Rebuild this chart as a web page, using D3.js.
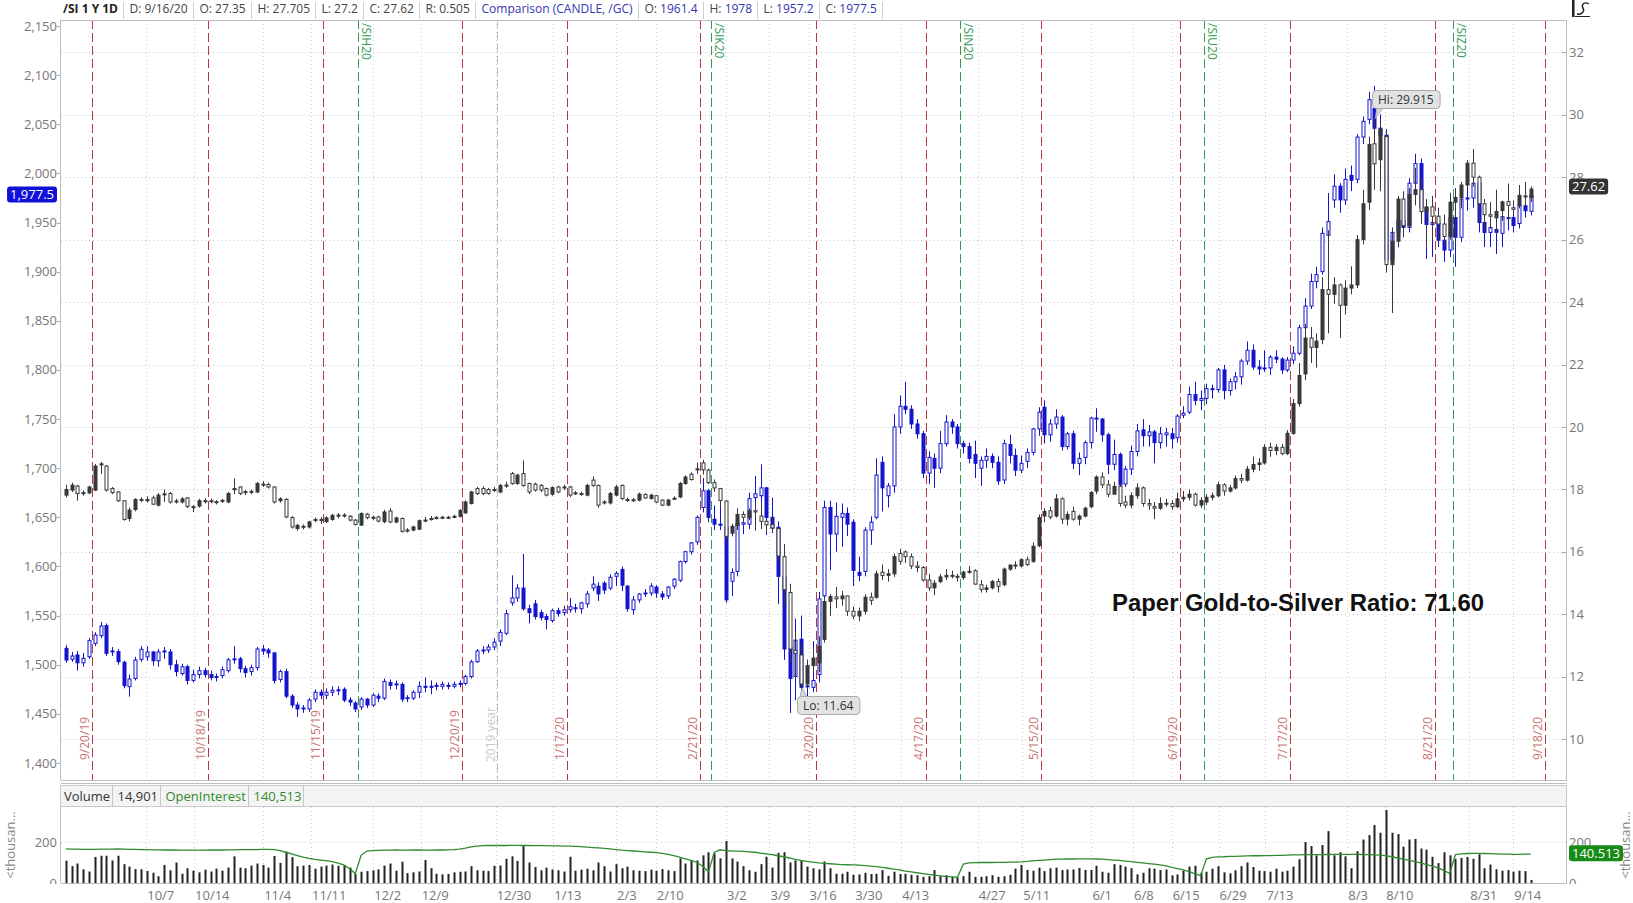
<!DOCTYPE html>
<html><head><meta charset="utf-8"><title>/SI vs /GC</title>
<script src="https://cdn.jsdelivr.net/npm/d3@7"></script>
<style>
html,body{margin:0;padding:0;background:#fff;overflow:hidden}
svg{display:block}
text{font-family:"Open Sans",sans-serif}
</style></head>
<body><svg id="chart" width="1633" height="903"></svg>
<script>
// ---------- DATA ----------
// /SI daily candles [open, high, low, close], 9/16/19 .. 9/16/20
const silverOHLC = [
[17.82,18.15,17.75,18.00],[17.98,18.22,17.92,18.14],[18.11,18.15,17.64,17.87],[17.88,17.97,17.80,17.90],[17.89,18.12,17.85,18.08],[17.98,18.82,17.95,18.75],
[18.80,18.88,18.50,18.82],[18.75,18.78,17.93,17.98],[18.03,18.08,17.85,17.90],[17.92,17.95,17.60,17.64],[17.64,17.66,17.00,17.04],[17.07,17.42,16.98,17.34],
[17.36,17.72,17.30,17.68],[17.68,17.75,17.60,17.66],[17.64,17.78,17.58,17.68],[17.73,17.80,17.50,17.53],[17.50,17.88,17.45,17.82],[17.85,18.00,17.60,17.86],
[17.87,17.92,17.55,17.60],[17.62,17.70,17.55,17.63],[17.60,17.75,17.55,17.70],[17.73,17.76,17.40,17.46],[17.45,17.50,17.28,17.44],[17.47,17.70,17.42,17.64],
[17.62,17.72,17.55,17.64],[17.64,17.70,17.56,17.62],[17.61,17.66,17.52,17.60],[17.62,17.70,17.57,17.65],[17.60,17.92,17.56,17.87],[17.99,18.35,17.85,18.03],
[18.08,18.10,17.82,17.87],[17.91,17.98,17.82,17.93],[17.92,18.00,17.85,17.94],[17.92,18.24,17.88,18.19],[18.17,18.26,18.08,18.16],[18.16,18.22,18.03,18.08],
[18.08,18.10,17.55,17.60],[17.64,17.75,17.58,17.70],[17.68,17.72,17.08,17.12],[17.10,17.15,16.75,16.80],[16.75,16.90,16.68,16.85],[16.82,16.88,16.72,16.80],
[16.80,17.00,16.75,16.96],[17.02,17.10,16.95,17.04],[17.04,17.12,16.90,17.02],[16.97,17.14,16.92,17.09],[17.04,17.22,17.00,17.17],[17.16,17.25,17.08,17.18],
[17.18,17.24,17.10,17.16],[17.14,17.18,16.98,17.02],[17.02,17.05,16.85,16.88],[16.86,17.27,16.83,17.23],[17.21,17.25,17.05,17.10],[17.10,17.16,17.02,17.11],
[17.12,17.16,16.95,16.99],[16.97,17.35,16.92,17.28],[17.31,17.40,16.92,16.96],[16.96,17.13,16.92,17.09],[17.07,17.10,16.62,16.66],[16.68,16.76,16.62,16.70],
[16.70,16.84,16.66,16.80],[16.73,17.04,16.70,17.00],[17.01,17.12,16.95,17.02],[17.05,17.15,17.00,17.07],[17.09,17.15,17.04,17.10],[17.10,17.16,17.05,17.11],
[17.11,17.15,17.05,17.10],[17.12,17.19,17.08,17.14],[17.14,17.37,17.10,17.33],[17.25,17.65,17.22,17.60],[17.55,17.96,17.52,17.92],[18.03,18.08,17.82,17.87],
[18.03,18.10,17.82,17.87],[18.00,18.05,17.83,17.87],[17.99,18.08,17.92,18.00],[17.92,18.18,17.88,18.13],[18.14,18.25,18.05,18.13],[18.51,18.56,18.15,18.19],
[18.19,18.50,18.15,18.46],[18.51,18.93,18.08,18.13],[18.19,18.22,17.85,17.92],[18.17,18.22,17.93,17.98],[18.13,18.17,17.92,17.98],[18.03,18.06,17.78,17.82],
[17.85,18.10,17.80,18.06],[18.08,18.12,17.88,17.92],[18.06,18.15,17.98,18.08],[18.08,18.12,17.76,17.82],[17.88,17.95,17.82,17.89],[17.87,17.93,17.80,17.86],
[17.82,18.18,17.78,18.13],[18.30,18.42,18.08,18.13],[18.13,18.16,17.42,17.50],[17.58,17.66,17.52,17.60],[17.57,17.92,17.52,17.87],[17.82,18.14,17.78,18.08],
[18.13,18.16,17.66,17.71],[17.68,17.74,17.60,17.66],[17.66,17.73,17.60,17.67],[17.66,17.90,17.62,17.85],[17.84,17.88,17.70,17.73],[17.71,17.86,17.68,17.82],
[17.80,17.82,17.56,17.60],[17.66,17.68,17.46,17.50],[17.50,17.70,17.46,17.66],[17.70,17.78,17.66,17.72],[17.76,18.24,17.72,18.19],[18.19,18.45,18.15,18.40],
[18.49,18.55,18.28,18.32],[18.63,18.86,18.50,18.66],[18.85,18.95,18.48,18.63],[18.62,18.67,18.17,18.22],[18.22,18.32,17.92,18.05],[18.03,18.05,17.48,17.65],
[17.63,17.65,16.38,16.50],[16.60,16.90,16.50,16.82],[16.85,17.40,16.70,17.20],[17.20,17.30,16.95,17.11],[17.10,17.40,17.02,17.32],[17.32,17.59,16.68,17.28],
[17.15,17.60,16.73,16.98],[16.98,17.00,16.65,16.87],[16.87,17.10,16.65,16.77],[16.75,16.82,15.65,15.87],[15.85,16.25,14.28,14.79],[14.70,14.98,12.45,12.89],
[12.85,13.45,11.95,12.75],[12.70,13.07,11.64,11.77],[11.77,12.55,11.70,12.36],[12.36,12.92,12.15,12.60],[12.45,13.30,12.15,12.97],[13.20,14.60,13.10,14.41],
[14.42,14.65,13.95,14.57],[14.56,14.88,14.20,14.50],[14.50,14.75,14.28,14.59],[14.59,14.60,13.95,14.10],[14.10,14.25,13.85,13.95],[13.95,14.22,13.78,14.10],
[14.10,14.65,14.00,14.55],[14.55,14.70,14.30,14.45],[14.55,15.40,14.50,15.30],[15.35,15.60,15.10,15.25],[15.25,15.45,15.05,15.30],[15.30,15.95,15.20,15.85],
[15.95,16.10,15.60,15.70],[16.00,16.05,15.65,15.85],[15.85,15.95,15.45,15.55],[15.55,15.70,15.35,15.50],[15.50,15.55,15.05,15.10],[15.10,15.30,14.75,14.85],
[14.85,15.10,14.62,15.00],[15.05,15.30,15.00,15.20],[15.20,15.45,15.10,15.25],[15.25,15.40,15.15,15.22],[15.22,15.30,15.05,15.20],[15.18,15.40,15.10,15.35],
[15.35,15.55,15.30,15.38],[15.40,15.45,14.95,14.97],[14.95,15.10,14.70,14.80],[14.80,14.95,14.70,14.85],[14.85,15.10,14.80,15.05],[15.05,15.15,14.70,14.90],
[14.95,15.50,14.90,15.45],[15.45,15.60,15.40,15.58],[15.58,15.70,15.45,15.55],[15.55,15.80,15.50,15.75],[15.75,15.85,15.55,15.60],[15.70,16.30,15.65,16.18],
[16.20,17.20,16.15,17.10],[17.15,17.40,16.95,17.30],[17.32,17.45,17.05,17.12],[17.15,17.85,17.10,17.70],[17.70,17.75,16.90,17.05],[17.05,17.30,16.85,17.20],
[17.30,17.45,17.00,17.05],[17.05,17.20,16.85,17.15],[17.15,17.45,17.10,17.40],[17.45,17.95,17.40,17.90],[17.95,18.45,17.85,18.40],[18.40,18.55,18.05,18.15],
[18.15,18.30,17.75,17.85],[17.85,18.25,17.85,18.10],[18.10,18.20,17.45,17.55],[17.60,17.80,17.40,17.50],[17.50,17.90,17.40,17.80],[17.80,18.20,17.70,18.05],
[18.05,18.10,17.45,17.55],[17.55,17.70,17.35,17.50],[17.45,17.60,17.05,17.40],[17.40,17.75,17.35,17.55],[17.55,17.70,17.45,17.56],[17.55,17.65,17.35,17.45],
[17.45,17.90,17.40,17.70],[17.70,17.95,17.60,17.75],[17.75,18.00,17.65,17.85],[17.85,17.90,17.45,17.50],[17.50,17.75,17.40,17.65],[17.60,17.85,17.50,17.75],
[17.75,17.90,17.65,17.80],[17.80,18.25,17.75,18.15],[18.15,18.20,17.80,17.95],[17.95,18.15,17.90,18.05],[18.05,18.45,18.00,18.35],[18.35,18.50,18.20,18.30],
[18.30,18.75,18.25,18.65],[18.65,19.05,18.55,18.80],[18.80,19.00,18.60,18.85],[18.85,19.45,18.80,19.35],[19.35,19.50,19.05,19.25],[19.25,19.45,19.10,19.35],
[19.35,19.45,19.10,19.15],[19.15,19.90,19.10,19.80],[19.80,20.90,19.75,20.75],[20.75,22.05,20.65,21.65],[21.70,23.30,21.50,22.85],[22.85,23.20,22.05,22.55],
[22.55,23.00,21.90,22.75],[22.80,24.80,22.65,24.40],[24.40,26.30,23.00,24.25],[24.25,24.80,23.95,24.55],[24.55,24.60,22.85,23.90],[23.90,24.70,23.60,24.45],
[24.45,25.15,24.25,24.55],[24.55,26.15,24.45,26.00],[26.00,27.60,25.85,27.15],[27.20,29.30,26.95,29.05],[29.07,29.915,27.60,28.43],[28.56,29.75,27.55,29.52],
[29.30,29.45,24.95,25.20],[25.20,26.35,23.65,25.95],[25.95,27.40,25.85,27.30],[27.30,27.55,26.10,26.45],[26.45,27.65,26.35,27.45],[27.45,28.30,27.10,27.60],
[27.60,27.95,26.50,26.90],[26.90,27.30,25.70,27.05],[27.05,27.40,25.95,26.75],[26.75,26.95,25.95,26.50],[26.50,26.80,25.80,26.10],[26.10,27.50,26.00,27.20],
[27.20,27.60,25.90,27.35],[27.35,27.85,27.00,27.75],[27.75,28.55,27.60,28.45],[28.45,28.90,27.70,28.00],[28.00,28.05,26.55,27.15],[27.15,27.30,26.30,26.80],
[26.80,27.20,26.35,26.75],[26.70,27.60,26.20,26.90],[26.93,27.25,26.60,27.21],[27.22,27.80,26.55,27.10],[27.02,27.25,26.75,26.97],[27.10,27.75,27.00,27.42],
[27.40,27.85,27.05,27.38],[27.35,27.705,27.20,27.62]
];
// /GC comparison candles [open, high, low, close]
const goldOHLC = [
[1516.7,1520,1502,1504.8],[1505.5,1513,1503,1508.9],[1510,1514,1494,1502],[1502,1512,1498,1506.5],[1508.2,1527,1506,1524.5],[1521.8,1533,1519,1530.3],
[1529.6,1543.5,1527,1539.4],[1539.8,1542,1509,1511.6],[1514,1518,1509,1513.3],[1513.3,1516,1500,1503.1],[1502.5,1504,1476,1478.7],[1477.7,1490,1467.5,1485.5],
[1486,1508,1484,1504.8],[1505.5,1519,1503,1515.7],[1508,1519,1504,1513],[1513,1514,1499,1504],[1504,1516,1498,1513],[1513,1518,1506,1514],
[1513,1516,1495,1500],[1500,1505,1488,1493],[1491,1501,1489,1498],[1498,1500,1480,1484],[1484,1495,1482,1490],[1490,1498,1486,1494],
[1494,1497,1487,1490],[1490,1494,1484,1487],[1487,1491,1483,1488],[1489,1498,1486,1495],[1494,1507,1492,1505],[1505,1519,1501,1506],
[1506,1508,1492,1496],[1496,1499,1487,1492],[1493,1500,1489,1497],[1497,1518,1494,1516],[1516,1520,1510,1514],[1515,1517,1507,1512],
[1512,1513,1481,1484],[1485,1495,1482,1493],[1493,1496,1466,1468],[1468,1470,1456,1459],[1459,1462,1447,1455],[1455,1459,1451,1456],
[1455,1466,1452,1464],[1465,1475,1462,1472],[1472,1475,1465,1469],[1469,1476,1465,1472],[1472,1478,1468,1474],[1474,1478,1469,1474.5],
[1475,1477,1462,1464],[1464,1467,1458,1462],[1461,1463,1452,1455],[1457,1467,1454,1465],[1465,1466,1456,1459],[1459,1471,1457,1469],
[1468,1471,1462,1466],[1466,1486,1464,1483],[1482,1485,1475,1479],[1480,1484,1475,1480.5],[1480,1482,1462,1465],[1466,1469,1462,1466.5],
[1466,1474,1464,1472],[1472,1483,1466,1478],[1478,1487,1472,1477],[1477,1484,1470,1478],[1479,1482,1474,1478],[1478,1483,1475,1480],
[1479,1482,1475,1478],[1478,1483,1476,1480],[1480,1484,1477,1481],[1481,1490,1479,1488],[1488,1505,1486,1503],[1503,1516,1502,1514],
[1514,1519,1511,1515],[1515,1521,1512,1518],[1518,1527,1515,1523],[1524,1536,1519,1533],[1532,1556,1530,1552],[1563,1591,1560,1568],
[1568,1582,1564,1578],[1578,1613,1555,1557],[1557,1561,1542,1553],[1562,1566,1546,1549],[1553,1556,1545,1548],[1549,1552,1536,1546],
[1545,1557,1543,1555],[1555,1558,1549,1552],[1553,1560,1550,1556],[1556,1568,1553,1559],[1558,1562,1553,1557],[1557,1564,1552,1563],
[1562,1575,1558,1572],[1578,1590,1575,1582],[1580,1584,1565,1572],[1583,1585,1572,1576],[1578,1592,1576,1589],[1590,1595,1580,1593],
[1597,1600,1575,1581],[1580,1581,1554,1557],[1556,1570,1551,1566],[1566,1573,1563,1572],[1572,1577,1569,1573],[1573,1583,1570,1580],
[1579,1581,1568,1573],[1572,1575,1566,1569],[1570,1580,1567,1579],[1580,1588,1577,1587],[1586,1606,1584,1605],[1605,1616,1603,1615],
[1615,1625,1612,1624],[1625,1652,1622,1650],[1660,1690,1655,1677],[1677,1679,1645,1650],[1648,1662,1637,1643],[1643,1662,1637,1642],
[1640,1650,1563,1566],[1585,1598,1570,1594],[1595,1650,1590,1644],[1643,1653,1633,1644.5],[1643,1675,1638,1669],[1670,1692,1641,1674],
[1672,1704,1661,1680],[1680,1681,1632,1650],[1650,1670,1634,1639],[1640,1646,1562,1590],[1590,1592,1505,1516],[1517,1575,1451,1486],
[1488,1547,1464,1525],[1526,1550,1474,1477],[1478,1505,1460,1478.5],[1477,1524,1472,1484],[1490,1574,1482,1567],[1570,1667,1566,1660],
[1660,1667,1596,1633],[1633,1665,1615,1651],[1650,1664,1620,1654],[1654,1660,1631,1643],[1645,1648,1580,1596],[1594,1610,1585,1591],
[1595,1640,1590,1637],[1637,1651,1622,1645],[1650,1710,1648,1693],[1706,1712,1656,1680],[1672,1685,1660,1682],[1682,1755,1675,1742],
[1742,1774,1735,1763],[1763,1788,1755,1760],[1760,1764,1740,1745],[1745,1750,1730,1735],[1735,1738,1690,1695],[1695,1717,1684,1711],
[1710,1715,1680,1700],[1700,1738,1695,1725],[1725,1754,1722,1747],[1747,1750,1735,1742],[1742,1745,1720,1725],[1725,1728,1715,1722],
[1722,1726,1705,1710],[1714,1728,1690,1705],[1700,1712,1682,1708],[1708,1720,1700,1712],[1712,1715,1700,1706],[1706,1712,1683,1687],
[1688,1729,1684,1725],[1724,1734,1705,1713],[1713,1720,1692,1698],[1698,1713,1695,1705],[1707,1720,1700,1716],[1716,1741,1713,1740],
[1740,1762,1733,1757],[1762,1769,1725,1734],[1734,1750,1727,1745],[1745,1760,1740,1752],[1752,1754,1718,1722],[1722,1737,1719,1735],
[1735,1738,1699,1705],[1705,1716,1693,1710],[1711,1728,1704,1726],[1726,1752,1720,1751],[1751,1761,1737,1750],[1750,1751,1727,1734],
[1734,1736,1694,1704],[1704,1729,1698,1714],[1714,1716,1671,1683],[1684,1702,1681,1699],[1699,1723,1693,1717],[1717,1745,1712,1738],
[1739,1750,1722,1733],[1733,1744,1722,1737],[1737,1739,1705,1726],[1726,1742,1720,1735],[1734,1741,1722,1736],[1735,1741,1720,1730],
[1731,1755,1726,1753],[1754,1763,1751,1756],[1757,1783,1755,1775],[1775,1788,1764,1769],[1769,1779,1759,1771],[1771,1786,1765,1781],
[1781,1785,1771,1780],[1780,1802,1777,1800],[1800,1805,1770,1779],[1779,1791,1774,1788],[1788,1798,1780,1793],[1793,1811,1785,1809],
[1809,1829,1805,1820],[1820,1826,1800,1803],[1803,1810,1795,1801],[1801,1820,1798,1802],[1802,1815,1795,1813],[1813,1820,1807,1811],
[1811,1813,1796,1800],[1800,1813,1798,1810],[1810,1824,1806,1817],[1817,1846,1815,1843],[1843,1873,1838,1865],[1865,1898,1862,1890],
[1890,1905,1883,1897],[1900,1945,1897,1939],[1937,1980,1925,1951],[1973,1999,1965,1987],[1987,1990,1960,1973],[1973,2005,1968,1994],
[1998,2008,1982,1993],[1994,2040,1990,2037],[2037,2058,2030,2053],[2055,2083,2050,2075],[2066,2089,2015,2046],[2046,2060,2025,2039],
[2039,2045,1905,1912],[1912,1945,1875,1940],[1940,1960,1925,1952],[1952,1965,1935,1945],[1945,1995,1940,1990],[1990,2020,1982,2010],
[2010,2015,1955,1965],[1965,1972,1913,1948],[1948,1966,1915,1950],[1950,1965,1925,1932],[1932,1952,1910,1922],[1922,1962,1915,1955],
[1955,1985,1905,1935],[1935,1978,1930,1974],[1974,1988,1962,1975],[1975,2005,1965,1990],[1990,1992,1940,1950],[1950,1960,1925,1940],
[1940,1955,1925,1945],[1943,1955,1918,1940],[1939,1960,1925,1956],[1955,1965,1942,1954],[1955,1968,1940,1947],[1949,1972,1944,1968],
[1967,1975,1955,1962],[1961.4,1978,1957.2,1977.5]
];
// Volume (thousands)
const volumeK = [
109,82,95,67,56,127,133,133,110,133,92,
80,68,67,58,50,33,88,62,100,45,72,60,52,65,56,70,60,75,130,75,72,85,95,
88,75,132,98,153,126,82,85,88,70,80,85,90,84,86,75,44,55,58,62,
66,85,95,60,104,48,52,56,112,72,45,42,44,52,55,56,82,62,60,58,84,
85,118,130,108,180,100,78,62,75,66,62,56,128,60,65,70,62,100,82,56,92,
72,80,62,60,58,65,60,68,62,58,120,95,110,110,135,150,145,120,205,
120,105,82,62,55,92,128,75,147,150,100,110,110,80,72,67,105,72,45,45,55,40,
42,50,44,45,63,35,55,44,45,40,38,30,33,63,33,38,30,28,33,55,30,
30,33,38,30,33,40,70,88,64,60,75,58,72,75,63,66,66,73,64,64,
84,55,50,92,88,80,72,42,50,72,70,63,66,37,42,60,80,84,50,55,70,82,
52,47,62,82,100,78,60,58,55,70,55,60,80,116,200,180,135,185,253,135,150,130,
72,155,212,234,283,245,356,245,239,177,212,215,168,163,128,97,150,135,118,122,127,
118,140,72,90,67,60,63,55,60,58,15
];
// Open interest (thousands)
const openInterestK = [
166,165,165,164,164,164,165,165,165,166,165,
164,164,163,163,162,162,161,161,161,160,160,160,160,160,161,161,161,162,162,163,163,163,163,
164,164,163,158,150,142,134,126,120,115,112,109,104,97,88,70,46,135,156,158,
159,160,160,161,160,160,161,161,160,160,161,161,162,163,165,170,176,180,182,183,183,
183,183,184,184,183,183,182,182,182,181,181,180,180,179,177,175,173,171,169,166,163,
160,158,156,154,152,150,148,145,140,134,126,118,110,100,82,55,150,162,158,
156,155,154,152,150,146,142,138,133,128,122,115,110,106,102,98,96,94,92,90,89,88,
87,85,82,80,76,72,68,64,58,54,50,46,42,38,35,32,30,28,92,98,99,
100,100,100,101,101,102,102,103,105,108,110,112,114,116,116,117,117,118,118,118,
117,116,114,112,110,107,104,101,98,95,92,88,84,76,70,64,56,46,36,118,125,127,
128,130,130,131,132,133,133,134,134,135,135,136,137,137,138,138,138,138,139,140,140,140,
140,140,139,138,137,136,134,128,122,116,110,104,98,90,82,74,62,46,138,142,144,
145,145,144,143,142,141,141,140,140,140.5,140.513
];
// x-axis tick labels and their positions (trading-day units)
const xTickLabels = ["10/7","10/14","11/4","11/11","12/2","12/9","12/30","1/13","2/3","2/10","3/2","3/9","3/16","3/30","4/13","4/27","5/11","6/1","6/8","6/15","6/29","7/13","8/3","8/10","8/31","9/14"];
const xTickIdx = [16.4,25.3,36.6,45.5,55.6,63.8,77.4,86.7,96.9,104.4,115.9,123.4,130.8,138.7,146.8,160.0,167.7,179.0,186.2,193.5,201.6,209.7,223.2,230.4,244.9,252.5];
// option expiration dates (red) and contract roll markers (green)
const expiryLabels = ["9/20/19","10/18/19","11/15/19","12/20/19","1/17/20","2/21/20","3/20/20","4/17/20","5/15/20","6/19/20","7/17/20","8/21/20","9/18/20"];
const expiryIdx = [4,24,44,68,86,109,129,148,168,192,211,236,255];
const rollLabels = ["/SIH20","/SIK20","/SIN20","/SIU20","/SIZ20"];
const rollIdx = [51,112,155,197,240];
const yearBreakIdx = 74;
// axis ticks
const goldTicks = [1400,1450,1500,1550,1600,1650,1700,1750,1800,1850,1900,1950,2000,2050,2100,2150];
const silverTicks = [10,12,14,16,18,20,22,24,26,28,30,32];
const volTicks = [0,200];
// header values
const headerMain = ["D: 9/16/20","O: 27.35","H: 27.705","L: 27.2","C: 27.62","R: 0.505"];
const headerComp = [["O:","1961.4"],["H:","1978"],["L:","1957.2"],["C:","1977.5"]];
const volHeader = [["Volume","#333"],["14,901","#333"],["OpenInterest","#2e8b2e"],["140,513","#2e8b2e"]];
const lastGold = 1977.5, lastSilver = 27.62, lastOI = 140.513;
const hiInfo = {idx:226, value:29.915}, loInfo = {idx:127, value:11.64};
const ratioText = "Paper Gold-to-Silver Ratio: 71.60";

// ---------- LAYOUT ----------
const svg = d3.select("#chart");
const W = 1633, H = 903;
const L = 61, R = 1567, T = 20, B = 780, VT = 807, VB = 883;
const N = silverOHLC.length;
const step = 5.79;
const x = d3.scaleLinear().domain([0, N - 1]).range([65.8, 65.8 + step * (N - 1)]);
const yG = d3.scaleLinear().domain([1400, 2150]).range([763, 26]);
const yS = d3.scaleLinear().domain([10, 32]).range([739.3, 52.3]);
const yV = d3.scaleLinear().domain([0, 200]).range([883, 842]);
const AX = "#777";

svg.append("rect").attr("width", W).attr("height", H).attr("fill", "#fff");

const gridG = svg.append("g");
const markerG = svg.append("g");
const candleG = svg.append("g");
const frameG = svg.append("g");
const labelG = svg.append("g");

// horizontal dotted gridlines
silverTicks.forEach(v => {
  const yy = Math.round(yS(v)) + 0.5;
  gridG.append("line").attr("x1", L).attr("x2", R).attr("y1", yy).attr("y2", yy)
    .attr("stroke", "#c8c8c8").attr("stroke-dasharray", "1,3");
});
gridG.append("line").attr("x1", L).attr("x2", R).attr("y1", Math.round(yV(200)) + 0.5).attr("y2", Math.round(yV(200)) + 0.5)
  .attr("stroke", "#c8c8c8").attr("stroke-dasharray", "1,3");

// vertical gridlines at x-label left edges
xTickLabels.forEach((t, i) => {
  const cx = x(xTickIdx[i]);
  const tx = labelG.append("text").attr("x", cx).attr("y", 900).attr("text-anchor", "middle")
    .attr("font-size", 13).attr("fill", AX).text(t);
  const w = tx.node().getComputedTextLength();
  const gx = Math.round(cx - w / 2) - 0.5;
  [[T, B], [VT, VB]].forEach(([a, b]) => {
    gridG.append("line").attr("x1", gx).attr("x2", gx).attr("y1", a).attr("y2", b)
      .attr("stroke", "#cfcfcf").attr("stroke-dasharray", "1,3");
  });
  tx.remove();
});

// year break
{
  const xx = Math.round(x(yearBreakIdx) + step / 2) + 0.5;
  markerG.append("line").attr("x1", xx).attr("x2", xx).attr("y1", T).attr("y2", B)
    .attr("stroke", "#c4c4c4").attr("stroke-dasharray", "8,4");
  markerG.append("text").attr("transform", `translate(${xx - 3},762) rotate(-90)`)
    .attr("font-size", 12).attr("fill", "#c8c8c8").text("2019 year");
}
// expiration lines
expiryLabels.forEach((t, i) => {
  const xx = Math.round(x(expiryIdx[i]) + step / 2) + 0.5;
  markerG.append("line").attr("x1", xx).attr("x2", xx).attr("y1", T).attr("y2", B)
    .attr("stroke", "#b23a3a").attr("stroke-dasharray", "9,4");
  markerG.append("text").attr("transform", `translate(${xx - 4},760) rotate(-90)`)
    .attr("font-size", 12).attr("fill", "#c87272").text(t);
});
// contract roll lines
rollLabels.forEach((t, i) => {
  const xx = Math.round(x(rollIdx[i]) - step / 2) + 0.5;
  markerG.append("line").attr("x1", xx).attr("x2", xx).attr("y1", T).attr("y2", B)
    .attr("stroke", "#2f9a52").attr("stroke-dasharray", "9,4");
  markerG.append("text").attr("transform", `translate(${xx + 3},23) rotate(90)`)
    .attr("font-size", 12).attr("fill", "#2f9a52").text(t);
});

// candles
function drawCandles(data, y, color, fillWhenUp) {
  const g = candleG.append("g");
  data.forEach((d, i) => {
    const [o, h, l, c] = d;
    const cx = Math.round(x(i)) + 0.5;
    g.append("line").attr("x1", cx).attr("x2", cx).attr("y1", y(h)).attr("y2", y(l))
      .attr("stroke", color).attr("stroke-width", 1);
    const top = y(Math.max(o, c)), bot = y(Math.min(o, c));
    const up = c >= o;
    const filled = fillWhenUp ? up : !up;
    const hgt = Math.max(1, bot - top);
    g.append("rect").attr("x", cx - 1.5).attr("y", top).attr("width", 3).attr("height", hgt)
      .attr("fill", filled ? color : "#fff").attr("stroke", color).attr("stroke-width", 1);
  });
}
drawCandles(goldOHLC, yG, "#1414cc", false);
drawCandles(silverOHLC, yS, "#383838", true);

// volume bars
const volG = candleG.append("g");
volumeK.forEach((v, i) => {
  const cx = Math.round(x(i));
  volG.append("rect").attr("x", cx - 0.5).attr("y", yV(v)).attr("width", 2).attr("height", VB - yV(v)).attr("fill", "#222");
});
// open interest line
candleG.append("path").datum(openInterestK)
  .attr("d", d3.line().x((d, i) => x(i)).y(d => yV(d)))
  .attr("fill", "none").attr("stroke", "#2e8b2e").attr("stroke-width", 1.3);

// frames
frameG.append("line").attr("x1", L).attr("x2", R).attr("y1", T + 0.5).attr("y2", T + 0.5).attr("stroke", "#bdbdbd");
frameG.append("line").attr("x1", L - 0.5).attr("x2", L - 0.5).attr("y1", T).attr("y2", B).attr("stroke", "#bdbdbd");
frameG.append("line").attr("x1", R - 0.5).attr("x2", R - 0.5).attr("y1", T).attr("y2", B).attr("stroke", "#bdbdbd");
frameG.append("line").attr("x1", L).attr("x2", R).attr("y1", B + 0.5).attr("y2", B + 0.5).attr("stroke", "#bdbdbd");
frameG.append("line").attr("x1", L).attr("x2", R).attr("y1", B + 3.5).attr("y2", B + 3.5).attr("stroke", "#bdbdbd");
frameG.append("rect").attr("x", L - 0.5).attr("y", 785.5).attr("width", R - L).attr("height", 21).attr("fill", "#f4f4f4").attr("stroke", "#c8c8c8");
frameG.append("line").attr("x1", L - 0.5).attr("x2", L - 0.5).attr("y1", VT).attr("y2", VB).attr("stroke", "#bdbdbd");
frameG.append("line").attr("x1", R - 0.5).attr("x2", R - 0.5).attr("y1", VT).attr("y2", VB).attr("stroke", "#bdbdbd");
frameG.append("line").attr("x1", L).attr("x2", R).attr("y1", VB + 0.5).attr("y2", VB + 0.5).attr("stroke", "#bdbdbd");

// volume header cells
{
  let cx = 64;
  volHeader.forEach(([s, col]) => {
    const t = frameG.append("text").attr("x", cx).attr("y", 801).attr("font-size", 13).attr("fill", col).text(s);
    const w = t.node().getComputedTextLength();
    const sx = Math.round(cx + w + 2) + 0.5;
    frameG.append("line").attr("x1", sx).attr("x2", sx).attr("y1", 786).attr("y2", 806).attr("stroke", "#c8c8c8");
    cx = sx + 5;
  });
}

// left gold axis
goldTicks.forEach(v => {
  const yy = yG(v);
  labelG.append("line").attr("x1", 57).attr("x2", 60).attr("y1", Math.round(yy) + 0.5).attr("y2", Math.round(yy) + 0.5).attr("stroke", "#aaa");
  labelG.append("text").attr("x", 57).attr("y", yy).attr("dy", "0.35em").attr("text-anchor", "end")
    .attr("font-size", 13).attr("fill", AX).text(d3.format(",")(v));
});
// right silver axis
silverTicks.forEach(v => {
  const yy = yS(v);
  labelG.append("line").attr("x1", R - 5).attr("x2", R - 1).attr("y1", Math.round(yy) + 0.5).attr("y2", Math.round(yy) + 0.5).attr("stroke", "#aaa");
  labelG.append("text").attr("x", R + 2).attr("y", yy).attr("dy", "0.35em")
    .attr("font-size", 13).attr("fill", AX).text(v);
});
// volume axes
volTicks.forEach(v => {
  const yy = yV(v);
  labelG.append("text").attr("x", 57).attr("y", yy).attr("dy", "0.35em").attr("text-anchor", "end")
    .attr("font-size", 13).attr("fill", AX).text(v);
  labelG.append("text").attr("x", R + 2).attr("y", yy).attr("dy", "0.35em")
    .attr("font-size", 13).attr("fill", AX).text(v);
});
// cover below volume panel (the "0" labels are clipped there)
labelG.append("rect").attr("x", 0).attr("y", VB + 1).attr("width", L - 1).attr("height", 20).attr("fill", "#fff");
labelG.append("rect").attr("x", R).attr("y", VB + 1).attr("width", W - R).attr("height", 20).attr("fill", "#fff");
labelG.append("text").attr("transform", "translate(15,845) rotate(-90)").attr("text-anchor", "middle")
  .attr("font-size", 13).attr("fill", "#888").text("<thousan...");
labelG.append("text").attr("transform", "translate(1630,845) rotate(-90)").attr("text-anchor", "middle")
  .attr("font-size", 13).attr("fill", "#888").text("<thousan...");
// x labels
xTickLabels.forEach((t, i) => {
  labelG.append("text").attr("x", x(xTickIdx[i])).attr("y", 900).attr("text-anchor", "middle")
    .attr("font-size", 13).attr("fill", AX).text(t);
});

// value boxes
function valueBox(cx, cy, txt, fill, anchorLeft) {
  const t = labelG.append("text").attr("y", cy).attr("dy", "0.35em").attr("font-size", 13).attr("fill", "#fff").text(txt);
  const w = t.node().getComputedTextLength();
  const bx = anchorLeft ? cx : cx - w - 6;
  labelG.insert("rect", () => t.node()).attr("x", bx).attr("y", cy - 8).attr("width", w + 6).attr("height", 16).attr("rx", 3).attr("fill", fill);
  t.attr("x", bx + 3);
}
valueBox(57, yG(lastGold) - 1, d3.format(",.1f")(lastGold), "#1010d8", false);
valueBox(R + 2, yS(lastSilver) - 2.5, lastSilver.toFixed(2), "#333", true);
valueBox(R + 2, yV(lastOI) - 1, lastOI.toFixed(3), "#178a17", true);

// Hi / Lo bubbles
function bubble(bx, by, txt, px, py, ax, ay) {
  const t = labelG.append("text").attr("font-size", 12).attr("fill", "#333").text(txt);
  const w = t.node().getComputedTextLength();
  labelG.insert("path", () => t.node()).attr("d", `M${ax - 3},${ay} L${px},${py} L${ax + 4},${ay}Z`).attr("fill", "#d8d8d8").attr("stroke", "#aaa");
  labelG.insert("rect", () => t.node()).attr("x", bx + 0.5).attr("y", by + 0.5).attr("width", w + 12).attr("height", 18).attr("rx", 4)
    .attr("fill", "#e2e2e2").attr("stroke", "#aaa");
  t.attr("x", bx + 6).attr("y", by + 13.5);
}
bubble(1372, 90, "Hi: " + hiInfo.value, x(hiInfo.idx) + 1, yS(hiInfo.value) + 1, 1380, 107);
bubble(797, 696, "Lo: " + loInfo.value, x(loInfo.idx) + 1, yS(loInfo.value), 803, 697);

// ratio annotation
labelG.append("text").attr("x", 1112).attr("y", 611)
  .style("font-family", "'Liberation Sans', Arial, sans-serif")
  .attr("font-weight", "bold").attr("font-size", 23).attr("fill", "#111")
  .attr("textLength", 372).attr("lengthAdjust", "spacingAndGlyphs").text(ratioText);

// header
{
  let cx = 63;
  const hy = 13;
  function cell(builder) {
    const t = labelG.append("text").attr("x", cx).attr("y", hy).attr("font-size", 12);
    builder(t);
    const w = t.node().getComputedTextLength();
    const sx = Math.round(cx + w + 5) + 0.5;
    labelG.append("line").attr("x1", sx).attr("x2", sx).attr("y1", 2).attr("y2", 19).attr("stroke", "#d0d0d0");
    cx = sx + 6;
  }
  cell(t => t.attr("font-weight", "bold").attr("fill", "#222").text("/SI 1 Y 1D"));
  headerMain.forEach(s => cell(t => t.attr("fill", "#444").text(s)));
  cell(t => t.attr("fill", "#3535b0").text("Comparison (CANDLE, /GC)"));
  headerComp.forEach(([k, v]) => cell(t => {
    t.append("tspan").attr("fill", "#444").text(k + " ");
    t.append("tspan").attr("fill", "#3535b0").text(v);
  }));
}
// top-right icon
labelG.append("rect").attr("x", 1572).attr("y", 0).attr("width", 2.5).attr("height", 17).attr("fill", "#222");
labelG.append("path").attr("d", "M1589,4 C1584,1 1581,5 1583,8 C1585,11 1582,15 1577,14").attr("fill", "none").attr("stroke", "#222").attr("stroke-width", 1.4);
labelG.append("line").attr("x1", 1575).attr("x2", 1590).attr("y1", 16.5).attr("y2", 16.5).attr("stroke", "#222");
</script>
</body></html>
